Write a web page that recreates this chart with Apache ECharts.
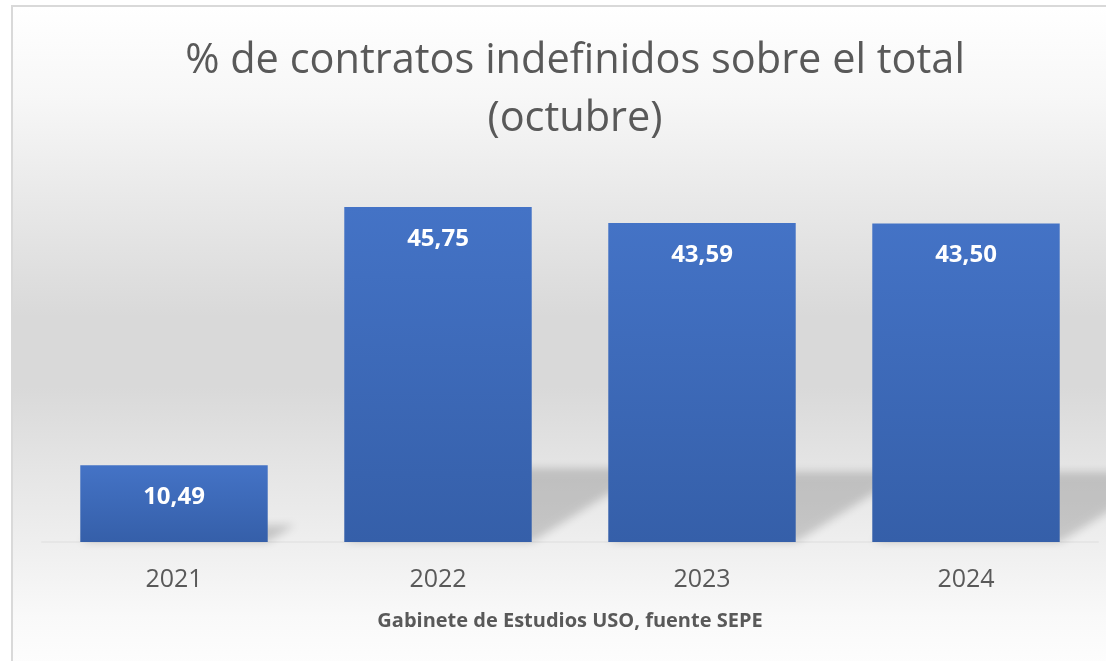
<!DOCTYPE html>
<html lang="es">
<head>
    <meta charset="UTF-8">
    <title>% de contratos indefinidos sobre el total</title>
    <script src="https://cdn.jsdelivr.net/npm/echarts@6/dist/echarts.min.js"></script>
    <style>
        body { margin: 0; background: #fff; overflow: hidden; }
        /* marco con degradado gris como en el original */
        #frame {
            position: absolute; left: 11px; top: 5px;
            width: 1200px; height: 800px;
            border: 2px solid #d9d9d9;
            background: linear-gradient(to bottom, #ffffff 0px, #f7f7f7 90px, #e9e9e9 190px,
                #d9d9d9 310px, #d9d9d9 380px, #e6e6e6 470px, #efefef 540px, #f9f9f9 610px, #ffffff 680px);
        }
        #chart { position: absolute; left: 0; top: 0; width: 1106px; height: 661px; }
    </style>
</head>
<body>
<div id="frame"></div>
<div id="chart"></div>
<script>
    // datos
    const years = ['2021', '2022', '2023', '2024'];
    const values = [10.49, 45.75, 43.59, 43.50];

    const chart = echarts.init(document.getElementById('chart'));

    // sombra en perspectiva detrás de cada barra
    function renderShadow(params, api) {
        const top = api.coord([api.value(0), api.value(1)]);
        const base = api.coord([api.value(0), 0]);
        const bw = api.size([1, 0])[0] * 0.71;
        const x0 = top[0] - bw / 2, x1 = top[0] + bw / 2;
        const h = (base[1] - top[1]) * 0.22;
        const dx = h * 1.6;
        const off = -3000;
        return {
            type: 'polygon',
            shape: {
                points: [
                    [x0 + off, base[1]], [x1 + off, base[1]],
                    [x1 + dx + off, base[1] - h], [x0 + dx + off, base[1] - h]
                ]
            },
            style: {
                fill: '#000',
                shadowColor: 'rgba(0,0,0,0.17)',
                shadowBlur: 8,
                shadowOffsetX: -off
            },
            silent: true
        };
    }

    const option = {
        animation: false,
        title: {
            text: '% de contratos indefinidos sobre el total\n(octubre)',
            left: 570,
            top: 27,
            textAlign: 'center',
            textStyle: {
                fontFamily: 'Open Sans',
                fontWeight: 'normal',
                fontSize: 41.5,
                lineHeight: 58,
                color: '#595959'
            }
        },
        grid: { left: 42, right: 8, top: 176, bottom: 119 },
        xAxis: {
            type: 'category',
            data: years,
            axisTick: { show: false },
            axisLine: { lineStyle: { color: '#e6e6e6', width: 2 } },
            axisLabel: {
                margin: 25,
                fontFamily: 'Open Sans',
                fontSize: 25,
                color: '#595959'
            },
            name: 'Gabinete de Estudios USO, fuente SEPE',
            nameLocation: 'middle',
            nameGap: 69,
            nameTextStyle: {
                fontFamily: 'Open Sans',
                fontWeight: 'bold',
                fontSize: 20,
                color: '#595959'
            }
        },
        yAxis: { type: 'value', min: 0, max: 50, show: false },
        series: [
            {
                type: 'custom',
                data: values.map((v, i) => [i, v]),
                renderItem: renderShadow,
                z: 1
            },
            {
                type: 'bar',
                data: values,
                barCategoryGap: '29%',
                z: 2,
                itemStyle: {
                    color: new echarts.graphic.LinearGradient(0, 0, 0, 1, [
                        { offset: 0, color: '#4473c6' },
                        { offset: 1, color: '#355fa9' }
                    ])
                },
                label: {
                    show: true,
                    position: 'insideTop',
                    distance: 20,
                    fontFamily: 'Open Sans',
                    fontWeight: 'bold',
                    fontSize: 24,
                    color: '#ffffff',
                    formatter: p => p.value.toFixed(2).replace('.', ',')
                }
            }
        ]
    };

    chart.setOption(option);
</script>
</body>
</html>
